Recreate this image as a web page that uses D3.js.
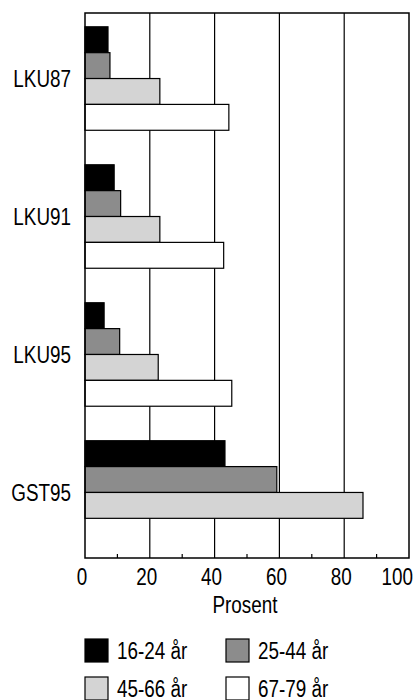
<!DOCTYPE html>
<html>
  <head>
    <meta charset="UTF-8">
    <title>bar</title>
    <script src="https://cdn.jsdelivr.net/npm/d3@7"></script>
    <style>
      body { margin: 0; background: #fff; }
      text { font-family: "Liberation Sans", Arial, sans-serif; fill: #000; }
    </style>
  </head>
  <body>
    <svg width="420" height="700"></svg>
    <script>
      var categories = ["LKU87", "LKU91", "LKU95", "GST95"];
      var seriesNames = ["16-24 år", "25-44 år", "45-66 år", "67-79 år"];
      var v1624 = [7.1, 9.0, 5.9, 43.2];
      var v2544 = [7.7, 11.0, 10.7, 59.2];
      var v4566 = [23.1, 23.1, 22.6, 85.8];
      var v6779 = [44.4, 42.8, 45.3, null];
      var xTicks = [0, 20, 40, 60, 80, 100];
      var minorTicks = [10, 30, 50, 70, 90];
      var colors = ["#000", "#8c8c8c", "#d4d4d4", "#fff"];

      var seriesValues = [v1624, v2544, v4566, v6779];
      var marge = {top: 13, left: 85, right: 11, bottom: 142};
      var svg = d3.select("svg");
      var width = +svg.attr("width") - marge.left - marge.right;
      var height = +svg.attr("height") - marge.top - marge.bottom;
      var g = svg.append("g")
        .attr("transform", "translate(" + marge.left + "," + marge.top + ")");

      // narrow type: squeeze text horizontally around its anchor
      function narrow(sel, fx, fy) {
        sel.attr("transform", function(d, i) {
          return "translate(" + fx(d, i) + "," + fy(d, i) + ") scale(0.82,1)";
        }).attr("font-size", 23);
      }

      var xScale = d3.scaleLinear().domain([0, 100]).range([0, width]);
      var yScale = d3.scaleBand().domain(categories).range([0, height])
        .paddingInner(0.25).paddingOuter(0.1);
      var inner = d3.scaleBand().domain(d3.range(seriesNames.length))
        .range([0, yScale.bandwidth()]);

      // gridlines
      g.selectAll(".grid").data(xTicks.slice(1, -1)).enter().append("line")
        .attr("x1", xScale).attr("x2", xScale)
        .attr("y1", 0).attr("y2", height)
        .attr("stroke", "#000").attr("stroke-width", 1.2);

      // bars
      var gs = g.selectAll(".grp").data(categories).enter().append("g")
        .attr("transform", function(d) { return "translate(0," + yScale(d) + ")"; });
      gs.selectAll("rect")
        .data(function(d, i) {
          return seriesValues.map(function(s, j) { return {j: j, v: s[i]}; })
            .filter(function(e) { return e.v != null; });
        })
        .enter().append("rect")
        .attr("x", xScale(0))
        .attr("y", function(d) { return inner(d.j); })
        .attr("width", function(d) { return xScale(d.v) - xScale(0); })
        .attr("height", inner.bandwidth())
        .attr("fill", function(d) { return colors[d.j]; })
        .attr("stroke", "#000").attr("stroke-width", 1.2);

      // frame
      g.append("rect").attr("width", width).attr("height", height)
        .attr("fill", "none").attr("stroke", "#000").attr("stroke-width", 1.5);

      // minor ticks
      g.selectAll(".minor").data(minorTicks).enter().append("line")
        .attr("x1", xScale).attr("x2", xScale)
        .attr("y1", height).attr("y2", height - 4)
        .attr("stroke", "#000").attr("stroke-width", 1.2);

      // x tick labels (last one kept inside the page)
      var lastTick = xTicks[xTicks.length - 1];
      g.selectAll(".xl").data(xTicks).enter().append("text")
        .attr("text-anchor", function(d) { return d === lastTick ? "end" : "middle"; })
        .text(function(d) { return d; })
        .call(narrow, function(d) { return d === lastTick ? xScale(d) + 4 : xScale(d) - 3; },
          function() { return height + 27; });

      g.append("text").datum(50)
        .attr("text-anchor", "middle").text("Prosent")
        .call(narrow, function(d) { return xScale(d) - 2; }, function() { return height + 55; });

      // category labels
      g.selectAll(".cl").data(categories).enter().append("text")
        .attr("dy", "0.35em")
        .attr("text-anchor", "end")
        .text(function(d) { return d; })
        .call(narrow, function() { return -14; },
          function(d) { return yScale(d) + yScale.bandwidth() / 2; });

      // legend
      var lg = svg.selectAll(".lg").data(seriesNames).enter().append("g")
        .attr("transform", function(d, i) {
          return "translate(" + (85 + (i % 2) * 141) + "," + (639 + Math.floor(i / 2) * 38) + ")";
        });
      lg.append("rect").attr("width", 23).attr("height", 23)
        .attr("fill", function(d, i) { return colors[i]; })
        .attr("stroke", "#000").attr("stroke-width", 1.2);
      lg.append("text")
        .text(function(d) { return d; })
        .call(narrow, function() { return 32; }, function() { return 20; });
    </script>
  </body>
</html>
